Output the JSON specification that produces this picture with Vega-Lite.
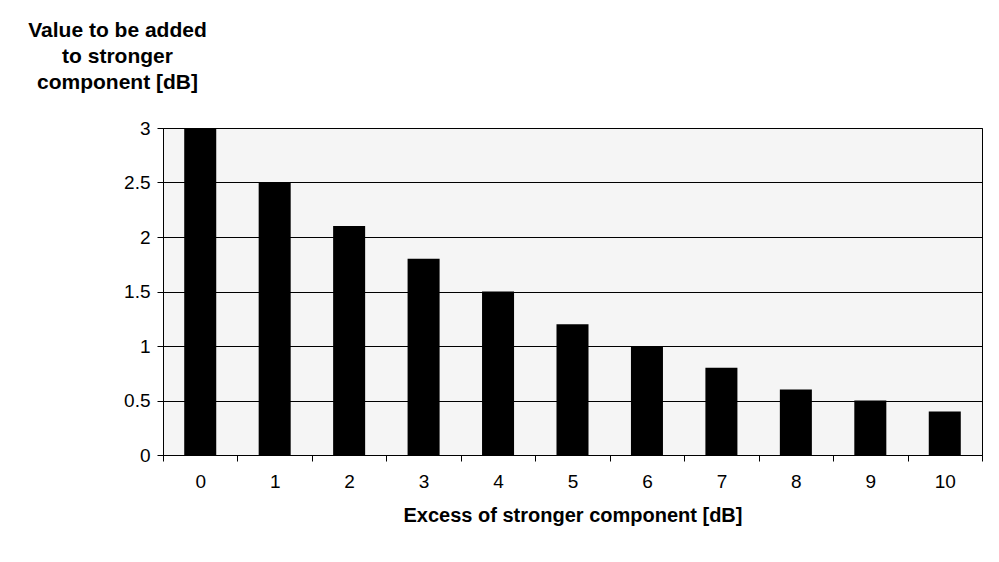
{
  "$schema": "https://vega.github.io/schema/vega-lite/v6.json",
  "width": 819,
  "height": 327,
  "autosize": {"type": "none"},
  "padding": {"left": 163, "top": 128, "right": 17, "bottom": 107},
  "background": "white",
  "config": {
    "font": "Liberation Sans",
    "view": {"stroke": "#000", "strokeWidth": 1, "fill": "#f5f5f5"},
    "axis": {"domainColor": "#000", "tickColor": "#000", "labelColor": "#000", "titleColor": "#000", "labelFont": "Liberation Sans", "titleFont": "Liberation Sans"}
  },
  "data": {
    "values": [
      {"excess": "0", "value": 3.0},
      {"excess": "1", "value": 2.5},
      {"excess": "2", "value": 2.1},
      {"excess": "3", "value": 1.8},
      {"excess": "4", "value": 1.5},
      {"excess": "5", "value": 1.2},
      {"excess": "6", "value": 1.0},
      {"excess": "7", "value": 0.8},
      {"excess": "8", "value": 0.6},
      {"excess": "9", "value": 0.5},
      {"excess": "10", "value": 0.4}
    ]
  },
  "mark": {"type": "bar", "color": "#000", "width": {"band": 0.43}},
  "encoding": {
    "x": {
      "field": "excess",
      "type": "ordinal",
      "sort": null,
      "scale": {"paddingInner": 0, "paddingOuter": 0},
      "axis": {
        "title": "Excess of stronger component [dB]",
        "titleFontSize": 20,
        "titleFontWeight": "bold",
        "titlePadding": 14,
        "labelAngle": 0,
        "labelFontSize": 19,
        "labelPadding": 11,
        "tickBand": "extent",
        "tickSize": 6,
        "domainWidth": 1
      }
    },
    "y": {
      "field": "value",
      "type": "quantitative",
      "scale": {"domain": [0, 3]},
      "axis": {
        "values": [0, 0.5, 1, 1.5, 2, 2.5, 3],
        "format": "~g",
        "grid": true,
        "gridColor": "#000",
        "gridWidth": 1,
        "gridOpacity": 1,
        "tickSize": 6,
        "labelFontSize": 19,
        "labelPadding": 7,
        "title": ["Value to be added", "to stronger", "component [dB]"],
        "titleAngle": 0,
        "titleFontSize": 21,
        "titleFontWeight": "bold",
        "titleAlign": "center",
        "titleBaseline": "top",
        "titleX": -46,
        "titleY": -109,
        "titleLineHeight": 26
      }
    }
  }
}
